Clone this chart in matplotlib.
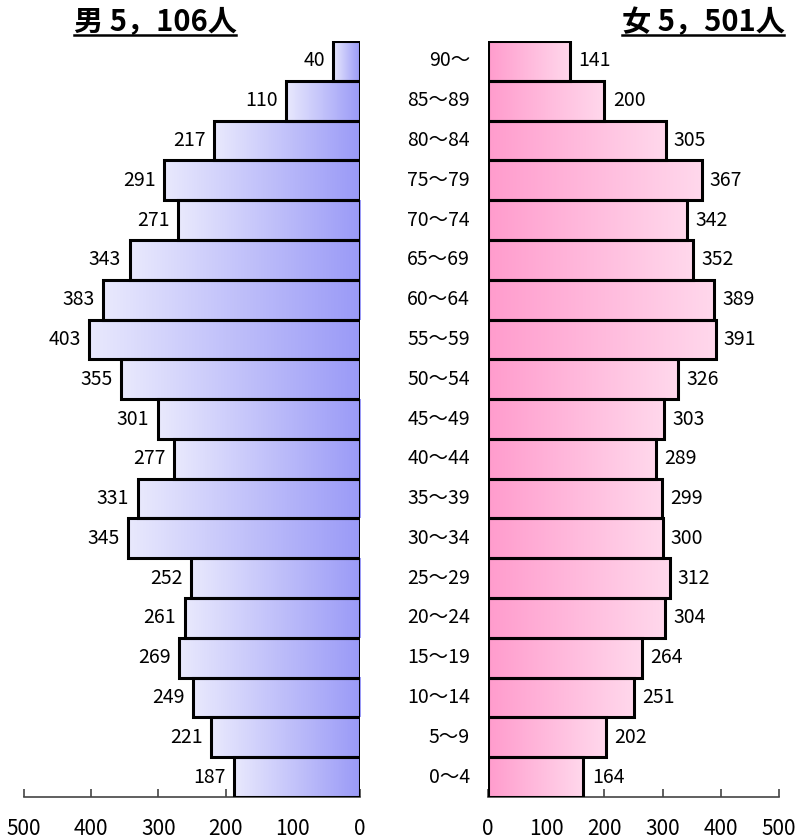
import numpy as np
import matplotlib.pyplot as plt
from matplotlib.colors import LinearSegmentedColormap
from matplotlib.lines import Line2D

plt.rcParams['font.family'] = ['Noto Sans CJK JP', 'DejaVu Sans']

# 年齢区分（下から上へ）
ages = ["0～4", "5～9", "10～14", "15～19", "20～24", "25～29", "30～34",
        "35～39", "40～44", "45～49", "50～54", "55～59", "60～64", "65～69",
        "70～74", "75～79", "80～84", "85～89", "90～"]
male = [187, 221, 249, 269, 261, 252, 345, 331, 277, 301, 355, 403, 383,
        343, 271, 291, 217, 110, 40]
female = [164, 202, 251, 264, 304, 312, 300, 299, 289, 303, 326, 391, 389,
          352, 342, 367, 305, 200, 141]
ticks = [0, 100, 200, 300, 400, 500]
title_m = "男 5，106人"
title_f = "女 5，501人"

W, H = 797, 839
fig = plt.figure(figsize=(W / 100, H / 100), dpi=100)

y_top, y_bot = 41, 797
ax_m = fig.add_axes([24 / W, 1 - y_bot / H, (360 - 24) / W, (y_bot - y_top) / H])
ax_f = fig.add_axes([488 / W, 1 - y_bot / H, (779 - 488) / W, (y_bot - y_top) / H])

cmap_m = LinearSegmentedColormap.from_list("m", ["#e9e9fd", "#9a9af7"])
cmap_f = LinearSegmentedColormap.from_list("f", ["#ff9ccd", "#ffd8ec"])
grad = np.linspace(0, 1, 256).reshape(1, -1)

y = np.arange(len(ages))


def draw_side(ax, vals, cmap, flip):
    bars = ax.barh(y, vals, height=1.0, facecolor="none", edgecolor="black",
                   linewidth=2.2, zorder=3)
    for b in bars:
        x1 = b.get_x() + b.get_width()
        yb = b.get_y()
        ext = [x1, 0] if flip else [0, x1]
        ax.imshow(grad, cmap=cmap, extent=ext + [yb, yb + b.get_height()],
                  aspect="auto", zorder=2, interpolation="bilinear")
    return bars


draw_side(ax_m, male, cmap_m, True)
draw_side(ax_f, female, cmap_f, False)

for ax in (ax_m, ax_f):
    ax.set_ylim(-0.5, len(ages) - 0.5)
    ax.set_xlim(0, 500)
    for s in ("top", "left", "right"):
        ax.spines[s].set_visible(False)
    ax.spines["bottom"].set_color("#444444")
    ax.spines["bottom"].set_linewidth(1.2)
    ax.set_yticks([])
    ax.set_xticks(ticks)
    ax.tick_params(axis="x", direction="in", length=6, width=1.2,
                   color="#444444", labelsize=15, pad=15)
    ax.patch.set_visible(False)
ax_m.invert_xaxis()

for i, v in enumerate(male):
    ax_m.annotate(str(v), xy=(v, i), xytext=(-6, 0), textcoords="offset points",
                  ha="right", va="center", fontsize=14)
for i, v in enumerate(female):
    ax_f.annotate(str(v), xy=(v, i), xytext=(6, 0), textcoords="offset points",
                  ha="left", va="center", fontsize=14)
    ax_f.annotate(ages[i], xy=(0, i), xytext=(-13, 0), textcoords="offset points",
                  ha="right", va="center", fontsize=14)

tm = fig.text(155 / W, 1 - 22 / H, title_m, ha="center", va="center",
              fontsize=21, fontweight="bold")
tf = fig.text(703 / W, 1 - 22 / H, title_f, ha="center", va="center",
              fontsize=21, fontweight="bold")

# 下線
fig.canvas.draw()
r = fig.canvas.get_renderer()
for t in (tm, tf):
    bb = t.get_window_extent(r).transformed(fig.transFigure.inverted())
    fig.add_artist(Line2D([bb.x0, bb.x1], [bb.y0 + 0.002, bb.y0 + 0.002],
                          transform=fig.transFigure, color="black", linewidth=1.8))

fig.savefig("out.png", dpi=100)
